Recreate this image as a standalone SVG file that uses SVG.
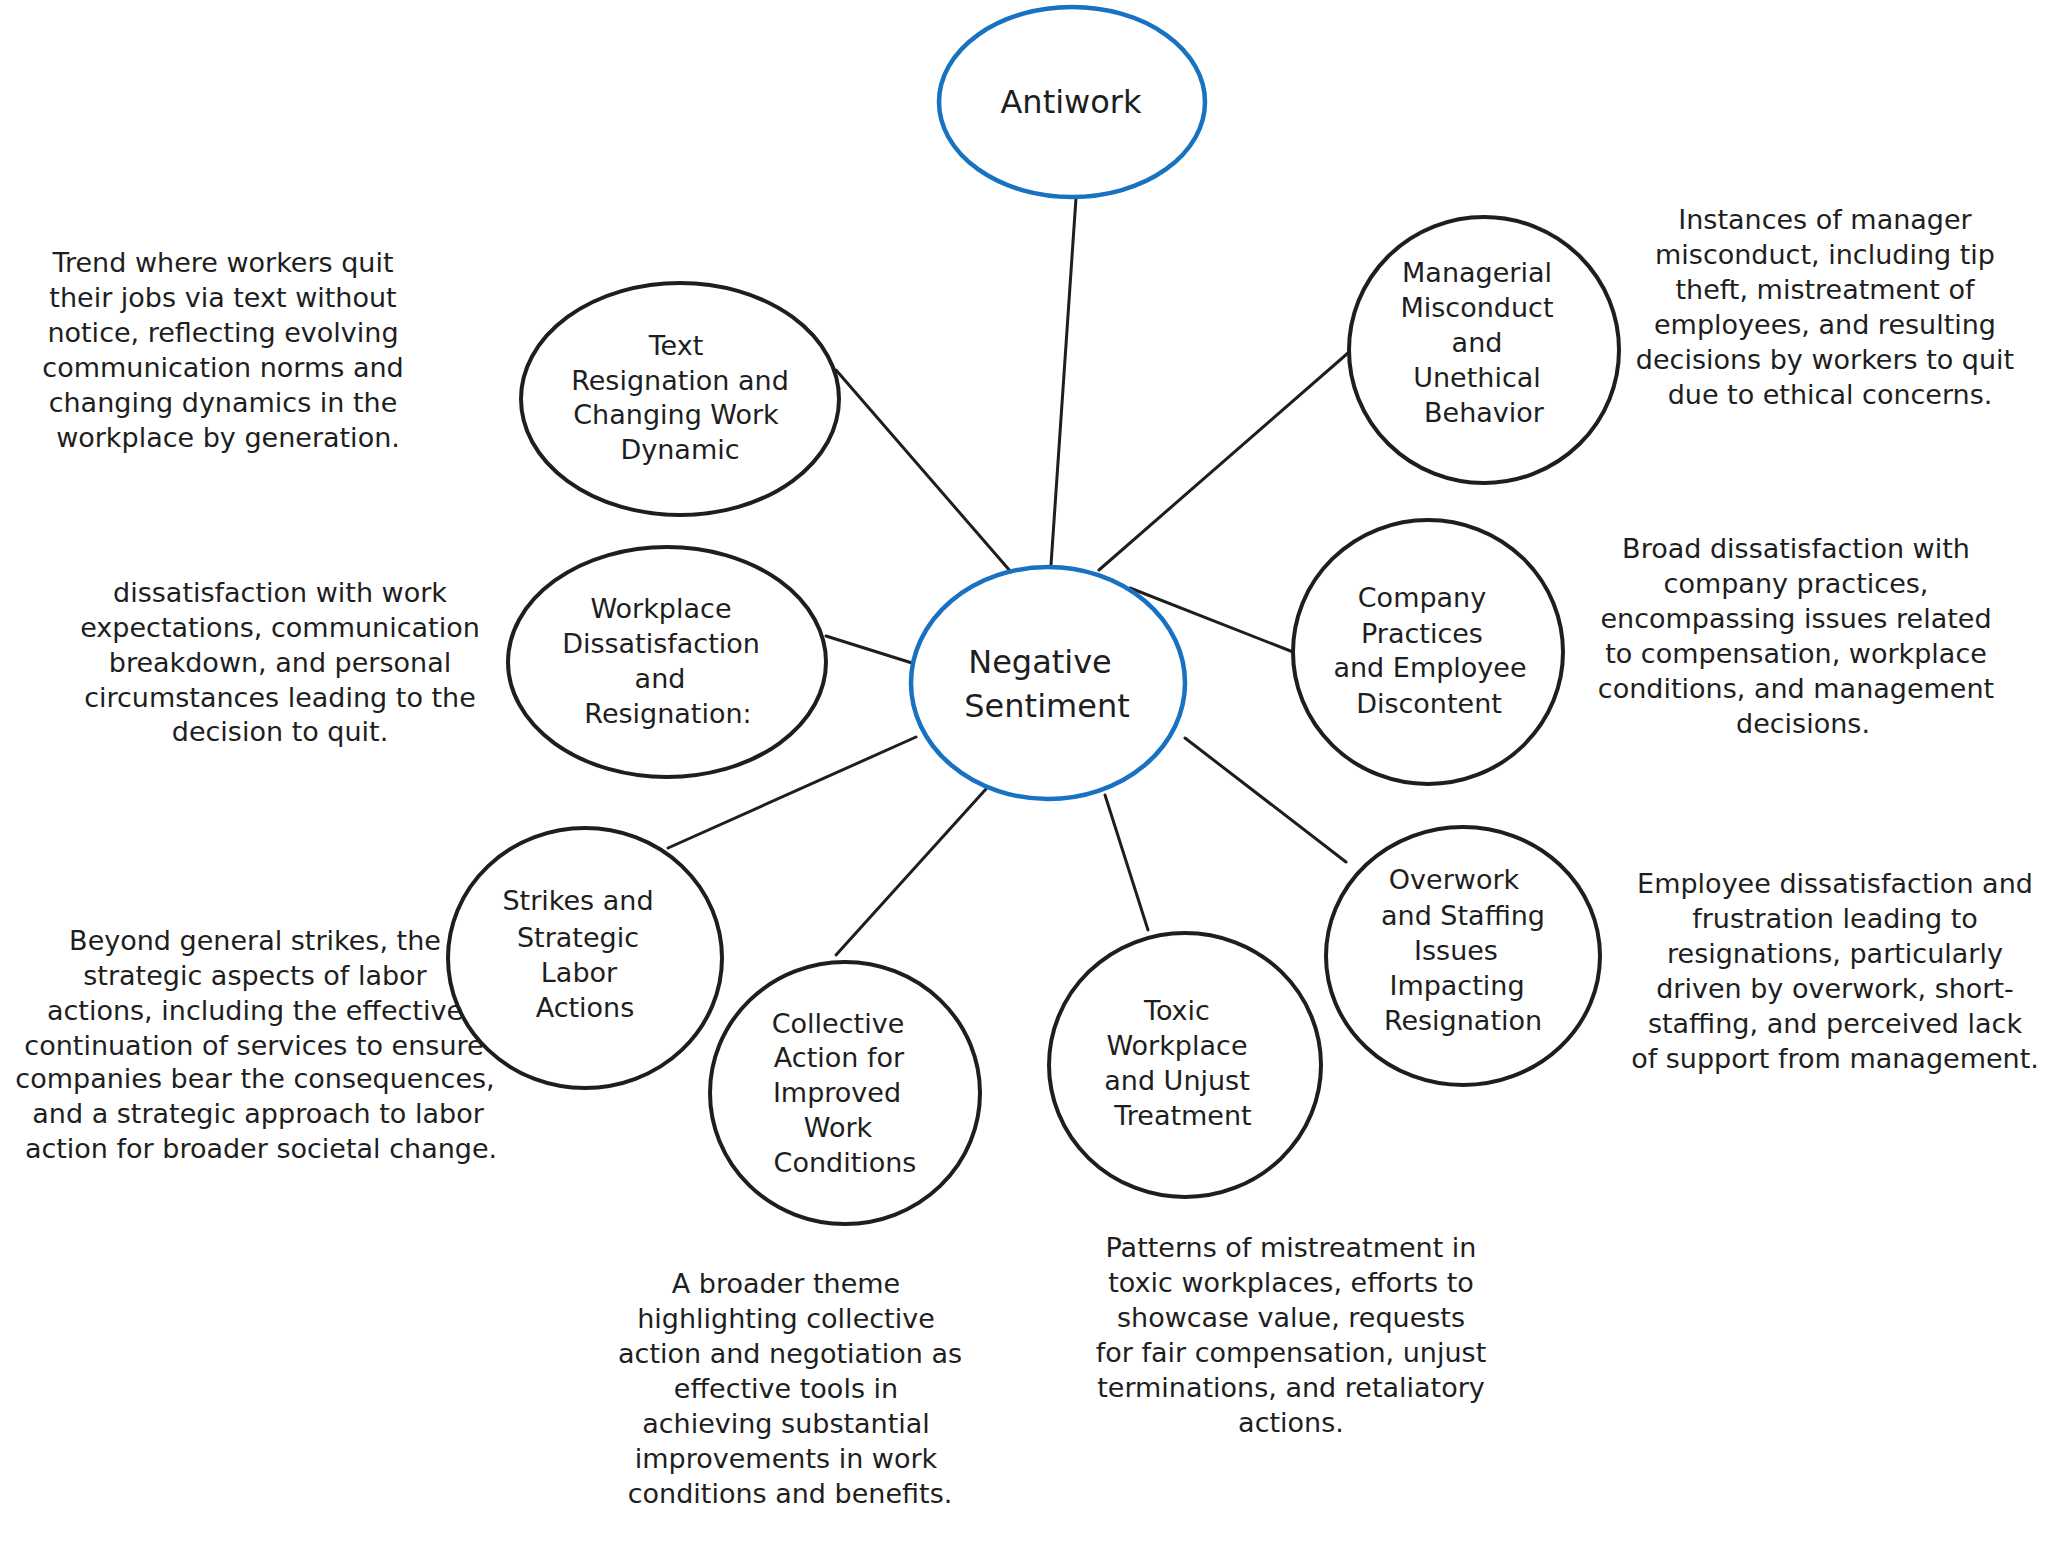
<svg xmlns="http://www.w3.org/2000/svg" width="2052" height="1563" viewBox="0 0 2052 1563">
<style>
.bg{fill:#ffffff}
.node{fill:none;stroke:#1e1e1e;stroke-width:4}
.hub{fill:none;stroke:#1971c2;stroke-width:4.5}
.edge{stroke:#1e1e1e;stroke-width:3;stroke-linecap:round;fill:none}
text{font-family:"DejaVu Sans","Liberation Sans",sans-serif;font-size:27px;fill:#1e1e1e;text-anchor:middle}
.big{font-size:32px}
</style>
<rect class="bg" x="0" y="0" width="2052" height="1563"/>
<g id="connectors">
<line class="edge" x1="1076" y1="198" x2="1051" y2="565"/>
<line class="edge" x1="836" y1="370" x2="1011" y2="572"/>
<line class="edge" x1="1099" y1="570" x2="1348" y2="353"/>
<line class="edge" x1="1130" y1="588" x2="1293" y2="652"/>
<line class="edge" x1="826" y1="636" x2="912" y2="663"/>
<line class="edge" x1="916" y1="737" x2="668" y2="848"/>
<line class="edge" x1="986" y1="789" x2="836" y2="955"/>
<line class="edge" x1="1105" y1="795" x2="1148" y2="930"/>
<line class="edge" x1="1185" y1="738" x2="1346" y2="862"/>
</g>
<g id="antiwork">
<ellipse class="hub" cx="1072" cy="102" rx="133" ry="95"/>
<text class="big" x="1071" y="113">Antiwork</text>
</g>
<g id="negative-sentiment">
<ellipse class="hub" cx="1048" cy="683" rx="137" ry="116"/>
<text class="big" x="1040" y="673">Negative</text>
<text class="big" x="1047" y="717">Sentiment</text>
</g>
<g id="text-resignation">
<ellipse class="node" cx="680" cy="399" rx="159" ry="116"/>
<text x="676" y="355">Text</text>
<text x="680" y="390">Resignation and</text>
<text x="676" y="424">Changing Work</text>
<text x="680" y="459">Dynamic</text>
</g>
<g id="managerial-misconduct">
<ellipse class="node" cx="1484" cy="350" rx="135" ry="133"/>
<text x="1477" y="282">Managerial</text>
<text x="1477" y="317">Misconduct</text>
<text x="1477" y="352">and</text>
<text x="1477" y="387">Unethical</text>
<text x="1484" y="422">Behavior</text>
</g>
<g id="workplace-dissatisfaction">
<ellipse class="node" cx="667" cy="662" rx="159" ry="115"/>
<text x="661" y="618">Workplace</text>
<text x="661" y="653">Dissatisfaction</text>
<text x="660" y="688">and</text>
<text x="668" y="723">Resignation:</text>
</g>
<g id="company-practices">
<ellipse class="node" cx="1428" cy="652" rx="135" ry="132"/>
<text x="1422" y="607">Company</text>
<text x="1422" y="643">Practices</text>
<text x="1430" y="677">and Employee</text>
<text x="1429" y="713">Discontent</text>
</g>
<g id="strikes">
<ellipse class="node" cx="585" cy="958" rx="137" ry="130"/>
<text x="578" y="910">Strikes and</text>
<text x="578" y="947">Strategic</text>
<text x="579" y="982">Labor</text>
<text x="585" y="1017">Actions</text>
</g>
<g id="collective-action">
<ellipse class="node" cx="845" cy="1093" rx="135" ry="131"/>
<text x="838" y="1033">Collective</text>
<text x="839" y="1067">Action for</text>
<text x="837" y="1102">Improved</text>
<text x="838" y="1137">Work</text>
<text x="845" y="1172">Conditions</text>
</g>
<g id="toxic-workplace">
<ellipse class="node" cx="1185" cy="1065" rx="136" ry="132"/>
<text x="1177" y="1020">Toxic</text>
<text x="1177" y="1055">Workplace</text>
<text x="1177" y="1090">and Unjust</text>
<text x="1183" y="1125">Treatment</text>
</g>
<g id="overwork">
<ellipse class="node" cx="1463" cy="956" rx="137" ry="129"/>
<text x="1454" y="889">Overwork</text>
<text x="1463" y="925">and Staffing</text>
<text x="1456" y="960">Issues</text>
<text x="1457" y="995">Impacting</text>
<text x="1463" y="1030">Resignation</text>
</g>
<g id="desc-text-resignation">
<text x="223" y="272">Trend where workers quit</text>
<text x="223" y="307">their jobs via text without</text>
<text x="223" y="342">notice, reflecting evolving</text>
<text x="223" y="377">communication norms and</text>
<text x="223" y="412">changing dynamics in the</text>
<text x="228" y="447">workplace by generation.</text>
</g>
<g id="desc-managerial">
<text x="1825" y="229">Instances of manager</text>
<text x="1825" y="264">misconduct, including tip</text>
<text x="1825" y="299">theft, mistreatment of</text>
<text x="1825" y="334">employees, and resulting</text>
<text x="1825" y="369">decisions by workers to quit</text>
<text x="1830" y="404">due to ethical concerns.</text>
</g>
<g id="desc-workplace">
<text x="280" y="602">dissatisfaction with work</text>
<text x="280" y="637">expectations, communication</text>
<text x="280" y="672">breakdown, and personal</text>
<text x="280" y="707">circumstances leading to the</text>
<text x="280" y="741">decision to quit.</text>
</g>
<g id="desc-company">
<text x="1796" y="558">Broad dissatisfaction with</text>
<text x="1796" y="593">company practices,</text>
<text x="1796" y="628">encompassing issues related</text>
<text x="1796" y="663">to compensation, workplace</text>
<text x="1796" y="698">conditions, and management</text>
<text x="1803" y="733">decisions.</text>
</g>
<g id="desc-strikes">
<text x="255" y="950">Beyond general strikes, the</text>
<text x="255" y="985">strategic aspects of labor</text>
<text x="255" y="1020">actions, including the effective</text>
<text x="254" y="1055">continuation of services to ensure</text>
<text x="255" y="1088">companies bear the consequences,</text>
<text x="258" y="1123">and a strategic approach to labor</text>
<text x="261" y="1158">action for broader societal change.</text>
</g>
<g id="desc-overwork">
<text x="1835" y="893">Employee dissatisfaction and</text>
<text x="1835" y="928">frustration leading to</text>
<text x="1835" y="963">resignations, particularly</text>
<text x="1835" y="998">driven by overwork, short-</text>
<text x="1835" y="1033">staffing, and perceived lack</text>
<text x="1835" y="1068">of support from management.</text>
</g>
<g id="desc-collective">
<text x="786" y="1293">A broader theme</text>
<text x="786" y="1328">highlighting collective</text>
<text x="790" y="1363">action and negotiation as</text>
<text x="786" y="1398">effective tools in</text>
<text x="786" y="1433">achieving substantial</text>
<text x="786" y="1468">improvements in work</text>
<text x="790" y="1503">conditions and benefits.</text>
</g>
<g id="desc-toxic">
<text x="1291" y="1257">Patterns of mistreatment in</text>
<text x="1291" y="1292">toxic workplaces, efforts to</text>
<text x="1291" y="1327">showcase value, requests</text>
<text x="1291" y="1362">for fair compensation, unjust</text>
<text x="1291" y="1397">terminations, and retaliatory</text>
<text x="1291" y="1432">actions.</text>
</g>
</svg>
